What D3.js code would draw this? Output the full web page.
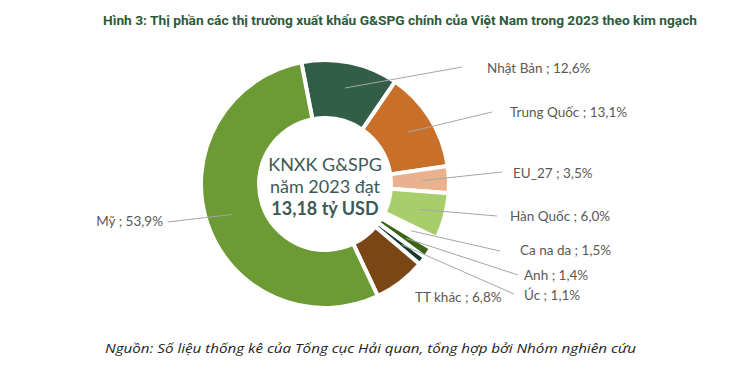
<!DOCTYPE html>
<html><head><meta charset="utf-8">
<script src="https://cdn.jsdelivr.net/npm/d3@7"></script>
<style>body{margin:0;background:#fff}svg{display:block}</style>
</head><body>
<svg id="c" width="731" height="377"></svg>
<script>
// Data
const categories = ["Nhật Bản","Trung Quốc","EU_27","Hàn Quốc","Ca na da","Anh","Úc","TT khác","Mỹ"];
const shares = [12.6, 13.1, 3.5, 6.0, 1.5, 1.4, 1.1, 6.8, 53.9];
const shareLabels = ["12,6%","13,1%","3,5%","6,0%","1,5%","1,4%","1,1%","6,8%","53,9%"];
const colors = ["#325E47","#C8702A","#E9B18D","#A8CE6B","#FFFFFF","#3C6418","#183A2E","#7A4616","#6C9A34"];
const titleText = "Hình 3: Thị phần các thị trường xuất khẩu G&SPG chính của Việt Nam trong 2023 theo kim ngạch";
const centerLines = ["KNXK G&SPG","năm 2023 đạt","13,18 tỷ USD"];
const sourceText = "Nguồn: Số liệu thống kê của Tổng cục Hải quan, tổng hợp bởi Nhóm nghiên cứu";

// Layout (label anchor points, leader end points)
const labelLayout = [
  {tx:487, ty:68,  lx:462, ly:67, anchor:"start", line:true},
  {tx:510, ty:112, lx:492, ly:112, anchor:"start", line:true},
  {tx:513, ty:173, lx:502, ly:172, anchor:"start", line:true},
  {tx:510, ty:216, lx:497, ly:216, anchor:"start", line:true},
  {tx:520, ty:250, lx:500, ly:251, anchor:"start", line:true},
  {tx:524, ty:275, lx:518, ly:275, anchor:"start", line:true},
  {tx:524, ty:295, lx:514, ly:294, anchor:"start", line:true},
  {tx:415, ty:297, lx:0, ly:0, anchor:"start", line:false},
  {tx:163, ty:221, lx:168, ly:222, anchor:"end", line:true}
];

const svg = d3.select("#c");
const cx = 325, cy = 184, rOuter = 124, rInner = 66;

svg.append("text").attr("x", 103).attr("y", 25)
  .attr("font-family","Roboto, sans-serif").attr("font-weight","bold").attr("font-size",13.5)
  .attr("textLength",594).attr("lengthAdjust","spacingAndGlyphs")
  .attr("fill","#2D5A3A").text(titleText);

const data = categories.map((c,i)=>({cat:c, v:shares[i], lab:shareLabels[i], col:colors[i], lay:labelLayout[i]}));
const startA = -11*Math.PI/180;
const pie = d3.pie().value(d=>d.v).sort(null).startAngle(startA).endAngle(startA+2*Math.PI);
const arcs = pie(data);
const arc = d3.arc().innerRadius(rInner).outerRadius(rOuter);
const g = svg.append("g").attr("transform",`translate(${cx},${cy})`);
g.selectAll("path.slice").data(arcs).join("path").attr("class","slice")
  .attr("d",arc).attr("fill",d=>d.data.col).attr("stroke","#fff").attr("stroke-width",4).attr("stroke-linejoin","miter");

// leader lines
const lineArc = d3.arc().innerRadius(98).outerRadius(98);
g.selectAll("line.lead").data(arcs.filter(d=>d.data.lay.line)).join("line").attr("class","lead")
  .attr("x1",d=>lineArc.centroid(d)[0]).attr("y1",d=>lineArc.centroid(d)[1])
  .attr("x2",d=>d.data.lay.lx-cx).attr("y2",d=>d.data.lay.ly-cy)
  .attr("stroke","#A6A6A6").attr("stroke-width",1);

svg.selectAll("text.lab").data(data).join("text").attr("class","lab")
  .attr("x",d=>d.lay.tx).attr("y",d=>d.lay.ty+4.5).attr("text-anchor",d=>d.lay.anchor)
  .attr("font-family","Lato, 'Open Sans', sans-serif").attr("font-size",13.5).attr("fill","#595959")
  .text(d=>`${d.cat} ; ${d.lab}`);

// center text
const ct = svg.append("g").attr("font-family","Lato, sans-serif").attr("fill","#3D5A58").attr("text-anchor","middle");
ct.append("text").attr("x",cx).attr("y",171).attr("font-size",18).text(centerLines[0]);
ct.append("text").attr("x",cx).attr("y",193).attr("font-size",18).text(centerLines[1]);
ct.append("text").attr("x",cx).attr("y",215).attr("font-size",18).attr("font-weight","bold").text(centerLines[2]);

svg.append("text").attr("x",105).attr("y",353).attr("font-family","'Open Sans', sans-serif").attr("font-style","italic")
  .attr("font-size",13.5).attr("textLength",531).attr("lengthAdjust","spacingAndGlyphs")
  .attr("fill","#222").text(sourceText);
</script>
</body></html>
